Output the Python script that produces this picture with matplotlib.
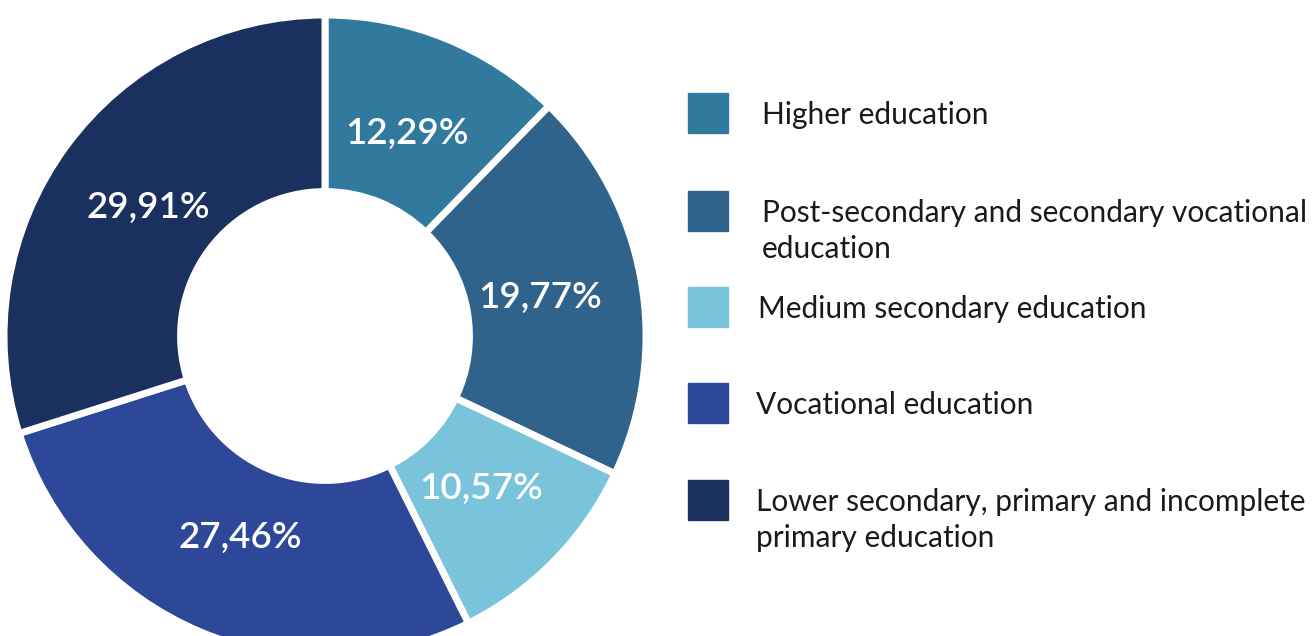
import matplotlib.pyplot as plt
from matplotlib.patches import Rectangle

# education levels, clockwise from the top
categories = [
    "Higher education",
    "Post-secondary and secondary vocational\neducation",
    "Medium secondary education",
    "Vocational education",
    "Lower secondary, primary and incomplete\nprimary education",
]
shares = [12.29, 19.77, 10.57, 27.46, 29.91]
colors = ["#317A9E", "#30638C", "#79C4DB", "#2D4899", "#1A315F"]

W, H = 1315, 636
fig = plt.figure(figsize=(W / 100, H / 100), dpi=100)
fig.patch.set_facecolor("white")

# donut, placed in pixel terms
cx, cy, r = 325, 336, 321
ax = fig.add_axes([(cx - r) / W, (H - cy - r) / H, 2 * r / W, 2 * r / H])

def fmt(pct):
    return f"{pct:.2f}%".replace(".", ",")

wedges, texts, autotexts = ax.pie(
    shares,
    colors=colors,
    startangle=90,
    counterclock=False,
    radius=1,
    autopct=fmt,
    pctdistance=0.68,
    wedgeprops=dict(width=0.55, edgecolor="white", linewidth=5),
    textprops=dict(color="white", fontsize=26.5, family="Lato", weight="semibold"),
)
ax.set_xlim(-1, 1)
ax.set_ylim(-1, 1)
ax.axis("off")

# legend on the right
lg = fig.add_axes([0, 0, 1, 1])
lg.set_xlim(0, W)
lg.set_ylim(H, 0)
lg.axis("off")

box_y = [93, 191, 287, 383, 480]
text_x = [762, 762, 758, 756, 756]
for i, (name, col) in enumerate(zip(categories, colors)):
    lg.add_patch(Rectangle((688, box_y[i]), 40, 40, color=col))
    for j, line in enumerate(name.split("\n")):
        lg.text(text_x[i], box_y[i] + 22 + j * 36, line, va="center",
                ha="left", fontsize=21.5, family="Lato", color="#1a1a1a")

fig.savefig("out.png", dpi=100, facecolor="white")
